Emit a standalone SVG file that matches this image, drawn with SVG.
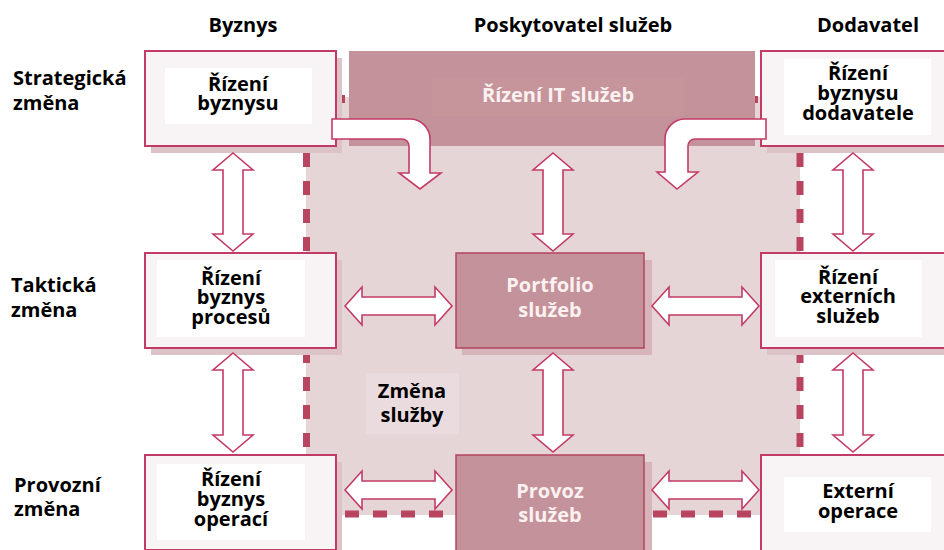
<svg xmlns="http://www.w3.org/2000/svg" width="944" height="550" viewBox="0 0 944 550">
<defs>
<style>
.t{font-family:"Open Sans","Liberation Sans",sans-serif;font-weight:bold;fill:#000;}
.c{text-anchor:middle;font-size:20px;}
.h{font-size:20px;text-anchor:middle;}
.r{font-size:20px;}
.w{fill:#fbf1f1;}
.box{fill:#f8f3f4;stroke:#c23b66;stroke-width:2;}
.inner{fill:#ffffff;}
.sh{fill:#dcc3c7;}
.dk{fill:#c4929a;stroke:#b3435f;stroke-width:1.5;}
.dsh{fill:#d6b4b9;}
.arr{fill:#ffffff;stroke:#c23b66;stroke-width:1.6;stroke-linejoin:miter;}
.dash{fill:none;stroke:#b8445f;stroke-width:7;stroke-dasharray:14 14;}
</style>
</defs>
<rect width="944" height="550" fill="#ffffff"/>

<!-- service change region -->
<g id="service-change">
<rect x="306" y="97" width="494" height="418" fill="#e6d5d7"/>
<line class="dash" x1="306.5" y1="153" x2="306.5" y2="455"/>
<line class="dash" x1="800" y1="153" x2="800" y2="455"/>
<line class="dash" x1="345" y1="514" x2="762" y2="514"/>
<rect x="342" y="95" width="3" height="8" fill="#b8445f"/>
<rect x="755" y="96" width="3" height="7" fill="#b8445f"/>
<rect x="366" y="373" width="93" height="61" fill="#eadcde"/>
<text class="t c" x="412"><tspan x="412" y="398">Změna</tspan><tspan x="412" y="422">služby</tspan></text>
</g>

<!-- headers -->
<g id="headers">
<text class="t h" x="243" y="32">Byznys</text>
<text class="t h" x="573" y="32">Poskytovatel služeb</text>
<text class="t h" x="868" y="32">Dodavatel</text>
<text class="t r"><tspan x="13" y="85">Strategická</tspan><tspan x="13" y="110">změna</tspan></text>
<text class="t r"><tspan x="11" y="292">Taktická</tspan><tspan x="11" y="317">změna</tspan></text>
<text class="t r"><tspan x="14" y="492">Provozní</tspan><tspan x="14" y="516">změna</tspan></text>
</g>

<!-- IT service management -->
<g id="it-service-mgmt">
<rect x="349" y="51" width="406" height="95" fill="#c4929a"/>
<rect x="432" y="78" width="252" height="38" fill="#c5959b"/>
<text class="t c w" x="558" y="102">Řízení IT služeb</text>
</g>

<!-- Business column -->
<g id="business-mgmt">
<rect class="sh" x="151" y="58" width="191" height="95"/>
<rect class="box" x="145" y="51" width="191" height="95"/>
<rect class="inner" x="165" y="68" width="147" height="56"/>
<text class="t c"><tspan x="238" y="91">Řízení</tspan><tspan x="238" y="110">byznysu</tspan></text>
</g>
<g id="business-process-mgmt">
<rect class="sh" x="151" y="260" width="191" height="95"/>
<rect class="box" x="145" y="253" width="191" height="95"/>
<rect class="inner" x="157" y="260" width="148" height="77"/>
<text class="t c"><tspan x="231" y="285">Řízení</tspan><tspan x="231" y="304">byznys</tspan><tspan x="231" y="324">procesů</tspan></text>
</g>
<g id="business-ops-mgmt">
<rect class="sh" x="151" y="462" width="191" height="95"/>
<rect class="box" x="145" y="455" width="191" height="95"/>
<rect class="inner" x="157" y="464" width="148" height="76"/>
<text class="t c"><tspan x="231" y="486">Řízení</tspan><tspan x="231" y="506">byznys</tspan><tspan x="231" y="526">operací</tspan></text>
</g>

<!-- Provider column -->
<g id="service-portfolio">
<rect class="dsh" x="462" y="260" width="190" height="95"/>
<rect class="dk" x="456" y="253" width="188" height="95"/>
<text class="t c w"><tspan x="550" y="292">Portfolio</tspan><tspan x="550" y="317">služeb</tspan></text>
</g>
<g id="service-operation">
<rect class="dsh" x="462" y="462" width="190" height="95"/>
<rect class="dk" x="456" y="455" width="188" height="96"/>
<text class="t c w"><tspan x="550" y="498">Provoz</tspan><tspan x="550" y="522">služeb</tspan></text>
</g>

<!-- Supplier column -->
<g id="supplier-business-mgmt">
<rect class="sh" x="767" y="58" width="180" height="95"/>
<rect class="box" x="761" y="51" width="186" height="95"/>
<rect class="inner" x="784" y="59" width="147" height="76"/>
<text class="t c"><tspan x="858" y="80">Řízení</tspan><tspan x="858" y="100">byznysu</tspan><tspan x="858" y="120">dodavatele</tspan></text>
</g>
<g id="external-services-mgmt">
<rect class="sh" x="767" y="260" width="180" height="95"/>
<rect class="box" x="761" y="253" width="186" height="95"/>
<rect class="inner" x="775" y="260" width="147" height="77"/>
<text class="t c"><tspan x="848" y="284">Řízení</tspan><tspan x="848" y="303">externích</tspan><tspan x="848" y="323">služeb</tspan></text>
</g>
<g id="external-operations">
<rect class="sh" x="767" y="462" width="180" height="95"/>
<rect class="box" x="761" y="455" width="186" height="96"/>
<rect class="inner" x="784" y="477" width="147" height="55"/>
<text class="t c"><tspan x="858" y="498">Externí</tspan><tspan x="858" y="518">operace</tspan></text>
</g>

<!-- connectors -->
<g id="connectors">
<path class="arr" d="M332,119 H410 A20,20 0 0 1 430,139 V173 H441 L420,189 L399,173 H409 V146 A7,7 0 0 0 402,139 H332 Z"/>
<path class="arr" d="M766,119 H685 A20,20 0 0 0 665,139 V172 H657 L677,189 L698,172 H688 V146 A7,7 0 0 1 695,139 H766 Z"/>
<path class="arr" d="M233,153 L253,170 H243 V234 H253 L233,251 L213,234 H223 V170 H213 Z"/>
<path class="arr" d="M233,353 L253,370 H243 V435 H253 L233,452 L213,435 H223 V370 H213 Z"/>
<path class="arr" d="M553,153 L573,170 H563 V234 H573 L553,251 L533,234 H543 V170 H533 Z"/>
<path class="arr" d="M553,353 L573,370 H563 V435 H573 L553,452 L533,435 H543 V370 H533 Z"/>
<path class="arr" d="M853,153 L873,170 H863 V234 H873 L853,251 L833,234 H843 V170 H833 Z"/>
<path class="arr" d="M853,353 L873,370 H863 V435 H873 L853,452 L833,435 H843 V370 H833 Z"/>
<path class="arr" d="M345,306 L362,287 V297 H435 V287 L452,306 L435,325 V315 H362 V325 Z"/>
<path class="arr" d="M345,490 L362,471 V481 H435 V471 L452,490 L435,509 V499 H362 V509 Z"/>
<path class="arr" d="M652,306 L669,287 V297 H742 V287 L759,306 L742,325 V315 H669 V325 Z"/>
<path class="arr" d="M652,490 L669,471 V481 H742 V471 L759,490 L742,509 V499 H669 V509 Z"/>
</g>
</svg>
